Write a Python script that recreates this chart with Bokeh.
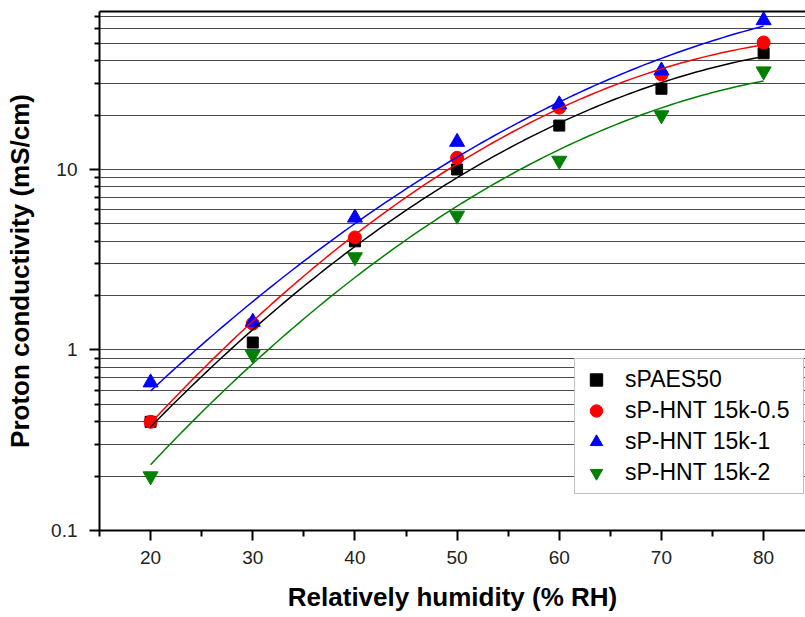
import numpy as np
from bokeh.plotting import figure
from bokeh.models import (FixedTicker, LinearAxis, Legend, LegendItem, Range1d,
                          CustomJSTickFormatter)
from bokeh.embed import file_html
from bokeh.resources import INLINE

# Proton conductivity (mS/cm) vs relative humidity (% RH)
humidity = [20, 30, 40, 50, 60, 70, 80]
spaes50 = [0.40, 1.10, 4.0, 10.0, 17.5, 28.0, 44.0]
hnt_05 = [0.40, 1.40, 4.2, 11.6, 22.0, 33.6, 50.5]
hnt_1 = [0.66, 1.43, 5.4, 14.2, 22.9, 35.3, 67.0]
hnt_2 = [0.20, 0.94, 3.27, 5.56, 11.2, 20.0, 35.0]

series_names = ["sPAES50", "sP-HNT 15k-0.5", "sP-HNT 15k-1", "sP-HNT 15k-2"]
series_colors = ["#000000", "#ff0000", "#0000ff", "#008000"]
series_markers = ["square", "circle", "triangle", "inverted_triangle"]
series_sizes = [11, 13, 15, 15]

x_ticks = [20, 30, 40, 50, 60, 70, 80]
x_minor_ticks = [15, 25, 35, 45, 55, 65, 75, 85]
y_ticks = [0.1, 1, 10]
y_minor_ticks = [0.2, 0.3, 0.4, 0.5, 0.6, 0.7, 0.8, 0.9,
                 2, 3, 4, 5, 6, 7, 8, 9,
                 20, 30, 40, 50, 60, 70]

FONT = "Liberation Sans"

p = figure(width=805, height=617, y_axis_type="log",
           x_range=Range1d(15, 84.1), y_range=Range1d(0.1, 75),
           output_backend="svg", toolbar_location=None,
           min_border_left=99, min_border_right=0,
           min_border_top=11, min_border_bottom=87)
p.outline_line_color = None
p.background_fill_color = "white"
p.border_fill_color = "white"

# grid: horizontal lines only, at every decade and sub-decade tick
p.xgrid.grid_line_color = None
p.ygrid.grid_line_color = "#4a4a4a"
p.ygrid.grid_line_width = 1
p.ygrid.minor_grid_line_color = "#4a4a4a"
p.ygrid.minor_grid_line_width = 1

# x axis
xa = p.xaxis[0]
xa.ticker = FixedTicker(ticks=x_ticks, minor_ticks=x_minor_ticks)
xa.axis_label = "Relatively humidity (% RH)"
xa.axis_label_text_font = FONT
xa.axis_label_text_font_style = "bold"
xa.axis_label_text_font_size = "26px"
xa.axis_label_text_color = "#000000"
xa.axis_label_standoff = 15
xa.major_label_text_font = FONT
xa.major_label_text_font_size = "19px"
xa.major_label_text_color = "#222222"
xa.major_label_standoff = 10
xa.axis_line_width = 2
xa.axis_line_color = "#000000"
xa.major_tick_in = 0
xa.major_tick_out = 10
xa.minor_tick_in = 0
xa.minor_tick_out = 6
xa.major_tick_line_width = 2
xa.minor_tick_line_width = 2
xa.major_tick_line_color = "#000000"
xa.minor_tick_line_color = "#000000"

# y axis (log)
ya = p.yaxis[0]
ya.ticker = FixedTicker(ticks=y_ticks, minor_ticks=y_minor_ticks)
ya.formatter = CustomJSTickFormatter(code="return tick.toString();")
ya.axis_label = "Proton conductivity (mS/cm)"
ya.axis_label_text_font = FONT
ya.axis_label_text_font_style = "bold"
ya.axis_label_text_font_size = "26px"
ya.axis_label_text_color = "#000000"
ya.axis_label_standoff = 13
ya.major_label_text_font = FONT
ya.major_label_text_font_size = "19px"
ya.major_label_text_color = "#222222"
ya.major_label_standoff = 12
ya.axis_line_width = 2
ya.axis_line_color = "#000000"
ya.major_tick_in = 0
ya.major_tick_out = 10
ya.minor_tick_in = 0
ya.minor_tick_out = 5
ya.major_tick_line_width = 2
ya.minor_tick_line_width = 2
ya.major_tick_line_color = "#000000"
ya.minor_tick_line_color = "#000000"

# top frame line
top = LinearAxis(ticker=FixedTicker(ticks=[]), axis_line_width=2,
                 axis_line_color="#000000", major_tick_in=0, major_tick_out=0,
                 minor_tick_in=0, minor_tick_out=0, major_label_standoff=0,
                 major_label_text_font_size="0px")
p.add_layout(top, "above")

all_series = [spaes50, hnt_05, hnt_1, hnt_2]

# data markers
marker_renderers = []
for vals, name, color, marker, size in zip(all_series, series_names, series_colors,
                                          series_markers, series_sizes):
    r = p.scatter(humidity, vals, marker=marker, size=size,
                  fill_color=color, line_color=color, line_width=1)
    marker_renderers.append(r)

# fitted trend curves (quadratic fit of log10 conductivity)
fit_x = np.linspace(humidity[0], humidity[-1], 121)
for vals, color in zip(all_series, series_colors):
    coeffs = np.polyfit(humidity, np.log10(vals), 2)
    fit_y = 10 ** np.polyval(coeffs, fit_x)
    p.line(fit_x, fit_y, line_color=color, line_width=1.5)

legend = Legend(
    items=[LegendItem(label=n, renderers=[r]) for n, r in zip(series_names, marker_renderers)],
    location=(475, 36),
    border_line_color="#808080", border_line_width=1,
    background_fill_color="white", background_fill_alpha=1.0,
    padding=5, spacing=0, margin=0,
    glyph_width=32, glyph_height=31, label_height=31,
    label_standoff=13, label_width=173,
    label_text_font=FONT, label_text_font_size="23px", label_text_color="#000000",
)
p.add_layout(legend)

open("out.html", "w").write(file_html(p, INLINE))
